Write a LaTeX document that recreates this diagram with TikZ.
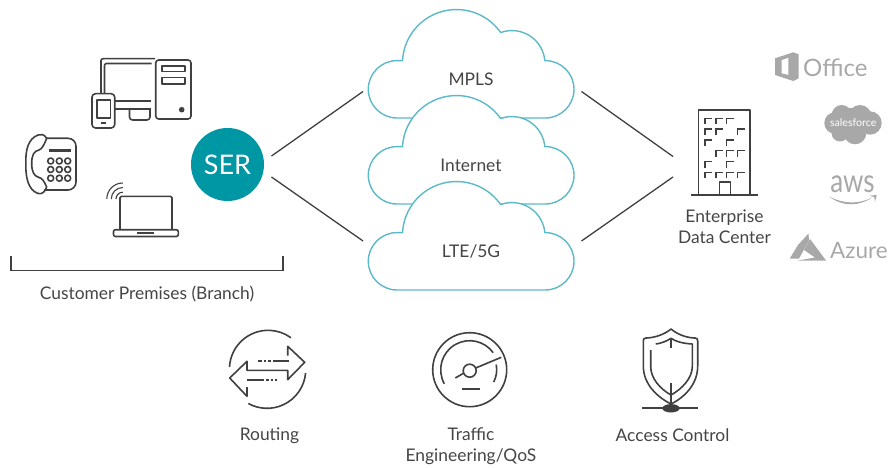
\documentclass[tikz,border=0pt]{standalone}
\usepackage{fontspec}
\usepackage{graphicx}
\setmainfont{Lato}
\definecolor{ink}{HTML}{404040}
\definecolor{label}{HTML}{454545}
\definecolor{teal}{HTML}{0097A5}
\definecolor{cloudline}{HTML}{5CBAC8}
\definecolor{logo}{HTML}{A8A8A8}
\tikzset{
  txt/.style={text=label,font=\fontsize{17.4}{20.8}\selectfont,inner sep=0pt,align=center},
  icon/.style={draw=ink,line width=1.6pt,line join=round},
  thick icon/.style={draw=ink,line width=2.4pt},
  link/.style={draw=ink,line width=1.3pt},
  logotext/.style={text=logo,inner sep=0pt},
  cloudpic/.pic={
    \path[draw=cloudline,fill=white,line width=1.4pt,line join=round]
      (402.5,60.7) arc (183:325:54) arc (250:355:33)
      -- (545.3,60.6) arc (270:450:28.7) -- (397,118) arc (90:270:28.7) -- cycle;
  }
}
\begin{document}
\begin{tikzpicture}[x=1pt,y=-1pt]
\useasboundingbox (0,0) rectangle (889,468);
% clouds
\pic at (0,0) {cloudpic};
\pic at (0,86) {cloudpic};
\pic at (0,172) {cloudpic};
\node[txt] (mpls) at (471,79) {MPLS};
\node[txt] (internet) at (471,165) {Internet};
\node[txt] (lte) at (471,251) {LTE/5G};
% SER
\node[circle,fill=teal,minimum size=73pt,inner sep=0pt,text=white,font=\fontsize{27}{30}\selectfont] (ser) at (227.5,164.5) {SER};
% connectors
\coordinate (serup) at (271.5,156);
\coordinate (serdn) at (271.5,177);
\coordinate (mplsl) at (363,91.5);
\coordinate (ltel) at (363,241);
\coordinate (mplsr) at (581.5,91.5);
\coordinate (lter) at (581.5,241);
\coordinate (dcup) at (673,156.5);
\coordinate (dcdn) at (673,177);
\draw[link] (serup) -- (mplsl);
\draw[link] (serdn) -- (ltel);
\draw[link] (mplsr) -- (dcup);
\draw[link] (lter) -- (dcdn);
% bracket
\draw[link] (11,256) -- (11,270.3) -- (283,270.3) -- (283,256);
\node[txt] (premises) at (147,293.7) {Customer Premises (Branch)};
% monitor
\draw[icon] (155,58.7) -- (104,58.7) [rounded corners=2pt] -- (101,58.7) -- (101,93);
\draw[icon,rounded corners=2pt] (151.5,63.5) -- (104.5,63.5) -- (104.5,93);
\draw[icon] (115,101) -- (151,101) (115,109) -- (151,109);
\draw[icon,rounded corners=3pt] (129.5,109) -- (129.5,120) -- (150,120) -- (150,109);
% tower
\draw[icon,rounded corners=3pt] (155.7,60) rectangle (191,119);
\draw[icon] (161.7,66) rectangle (185,71.7) (161.7,77.7) rectangle (185,84);
\fill[ink] (181.7,109.7) circle [radius=2.8];
% handheld
\draw[icon,rounded corners=3.5pt] (92,93.7) rectangle (114.7,128);
\draw[icon] (96.7,100) rectangle (110.3,118.3);
\draw[icon] (101,123) -- (106,123);
% desk phone
\draw[icon] (46.7,138.3) .. controls (44,134) and (41,134) .. (38,135)
  .. controls (28,139) and (25.5,150) .. (25.8,163.3)
  .. controls (25.5,177) and (28,190) .. (38,193.5)
  .. controls (42,194.5) and (45,192) .. (46.7,187)
  .. controls (44,181) and (42,178) .. (39,177.5)
  .. controls (34,176) and (31.7,172) .. (31.7,163.3)
  .. controls (31.7,155) and (34,151) .. (39,150)
  .. controls (42,149) and (44,145) .. (46.7,138.3) -- cycle;
\draw[icon,rounded corners=8pt] (46.7,138.3) -- (76,138.3) -- (76,190) -- (44,190);
\draw[thick icon] (49.3,150.7) -- (71,150.7);
\foreach \bx in {50.7,59.3,67.7}\foreach \by in {161,169.5,178.2}
  \draw[icon] (\bx,\by) circle [radius=3];
% laptop
\draw[icon,rounded corners=1.5pt] (120,229.5) -- (120,196.3) -- (172,196.3) -- (172,229.5);
\draw[icon,rounded corners=2pt] (113.5,229.7) rectangle (178.3,236.5);
\draw[thick icon,line width=1.4pt] (137.3,232.8) -- (154,232.8);
\draw[icon,line width=1.1pt] (106.8,199) arc (180:270:16);
\draw[icon,line width=1.1pt] (111.3,199) arc (180:270:11.5);
\draw[icon,line width=1.1pt] (116,199) arc (180:270:6.8);
% building
\draw[icon] (698.3,195) -- (698.3,110) -- (750,110) -- (750,195);
\draw[icon] (691,195) -- (757.7,195);
\draw[icon] (719.3,195) -- (719.3,181.7) -- (730.3,181.7) -- (730.3,195);
\foreach \wx/\wy in {705/118.3,716/118.3,726.7/118.3,
  705/129,716/129,737.7/129,
  705/140,726.7/140,
  716/150.7,726.7/150.7,737.7/150.7,
  705/161.7,726.7/161.7,
  705/172.3,716/172.3,726.7/172.3,737.7/172.3}
  \draw[draw=ink,line width=1.2pt] (\wx,\wy+6) -- (\wx,\wy) -- (\wx+7,\wy);
\node[txt] (dc) at (724.5,226.7) {Enterprise\\Data Center};
% office
\fill[logo,even odd rule] (775,58.3) -- (793.3,52.3) -- (798.7,54.3) -- (798.7,78.3) -- (793.3,81) -- (775,75) -- cycle
  (781.7,60) -- (788.3,57.7) -- (788.3,75) -- (781.7,73.3) -- cycle;
\node[logotext,font=\fontsize{24}{28}\selectfont] (office) at (835.3,67.5) {Office};
% salesforce
\fill[logo] (835,123) circle [radius=10.7] (841.7,115) circle [radius=10] (860,116.5) circle [radius=11.5]
  (870,123) circle [radius=11.7] (855,133) circle [radius=11.3] (840,133) circle [radius=8.5] (850,122) circle [radius=14];
\node[inner sep=0pt,text=white,font=\fontsize{10.6}{12}\selectfont] (sf) at (853.2,122.7) {salesforce};
% aws
\node[logotext,font=\fontsize{26}{30}\selectfont] (aws) at (852.5,184) {\scalebox{1}[1.25]{aws}};
\fill[logo] (829,196.5) .. controls (842,206.5) and (858,207) .. (872.5,197.3)
  .. controls (859,204.5) and (843,204) .. cycle;
\fill[logo] (869.3,195.7) -- (876.7,195) -- (875,201.7) -- (874.2,197) -- cycle;
% azure
\fill[logo] (808.5,233.5) -- (798,245) -- (789.8,258.5) -- (799,258.5) -- (809,240.5) -- cycle;
\fill[logo] (810,239) -- (826,260.5) -- (798,260.5) -- (815,257.5) -- (804,250) -- cycle;
\node[logotext,font=\fontsize{22.5}{25}\selectfont] (azure) at (859,251) {Azure};
% routing
\draw[icon] (229.5,367) arc (183:306:38.7);
\draw[icon] (305.6,373) arc (5:119:38.7);
\draw[icon,miter limit=4] (287.7,355.5) -- (287.7,346.3) -- (304.7,362.3) -- (287.7,379.7) -- (287.7,370.3) -- (247,370.3) -- (247,361.3) -- (229.7,378) -- (247,396.3) -- (247,387);
\draw[thick icon,line width=1.9pt] (258,361.3) -- (262,361.3) (264,361.3) -- (266,361.3) (268,361.3) -- (270.5,361.3) (272.5,361.3) -- (288.5,361.3);
\draw[thick icon,line width=1.9pt] (246.5,380) -- (263.5,380) (266,380) -- (268.5,380) (270.5,380) -- (272.5,380) (274.5,380) -- (277,380);
\node[txt] (routing) at (269.5,436) {Routing};
% gauge
\draw[icon] (469.7,369.7) circle [radius=37];
\draw[icon] (469.7,369.7) ++(151:29) arc (151:324:29);
\draw[icon] (469.7,369.7) ++(349:27) arc (349:387:27);
\draw[icon] (469.7,370.7) circle [radius=6.5];
\draw[icon] (455.3,378) -- (464,373) (475.7,368) -- (501.3,357.3);
\draw[icon] (462,389) -- (479.7,389);
\node[txt] (traffic) at (471,446.5) {Traffic\\Engineering/QoS};
% shield
\draw[icon] (671,329) .. controls (664,335) and (653,338) .. (646,338)
  .. controls (644,338) and (643.3,339) .. (643.3,341) -- (643.3,366)
  .. controls (643.3,384) and (657,397) .. (671,404)
  .. controls (685,397) and (697.7,384) .. (697.7,366) -- (697.7,341)
  .. controls (697.7,339) and (697,338) .. (695,338)
  .. controls (688,338) and (678,335) .. (671,329) -- cycle;
\draw[icon] (655.7,344) .. controls (661,343.5) and (667,341) .. (671,338.3)
  .. controls (675,341) and (682,343.5) .. (692.3,344) -- (692.3,366.7)
  .. controls (692.3,378) and (682,389) .. (671,395)
  .. controls (660,389) and (650.7,378) .. (650.7,366.7) -- (650.7,350);
\draw[icon] (671,338.3) -- (671,348) (671,383) -- (671,407);
\draw[draw=ink,line width=1.9pt] (642.3,408.3) -- (698.3,408.3);
\fill[ink] (671,408.3) ellipse [x radius=8.7,y radius=4.2];
\node[txt] (access) at (672.5,435) {Access Control};
\end{tikzpicture}
\end{document}
